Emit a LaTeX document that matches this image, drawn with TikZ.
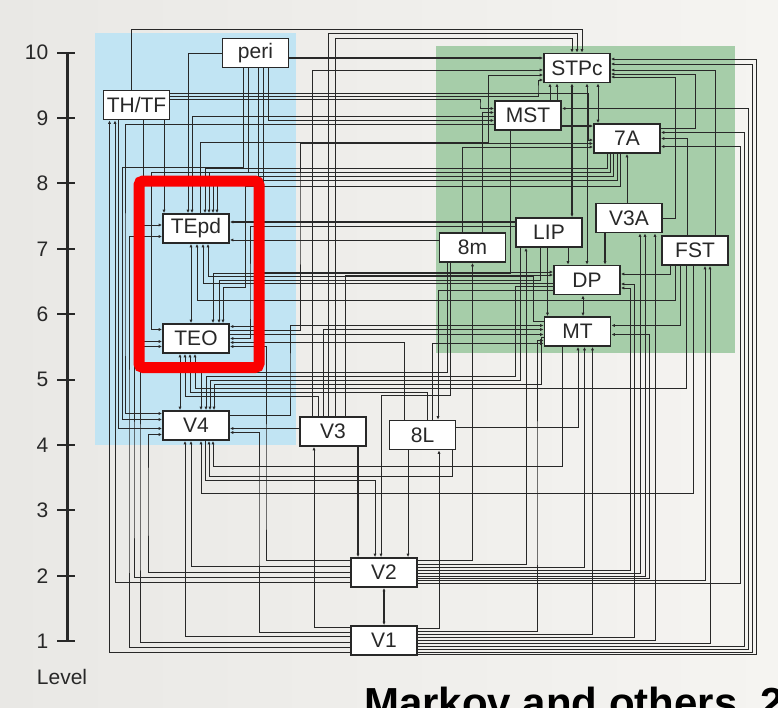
\documentclass[tikz,border=0pt]{standalone}
\usepackage{fontspec}
\setmainfont{Liberation Sans}
\usetikzlibrary{arrows.meta}
\definecolor{bgL}{RGB}{233,232,229}
\definecolor{bgR}{RGB}{245,244,241}
\definecolor{blueA}{RGB}{193,228,243}
\definecolor{greenA}{RGB}{166,205,169}
\definecolor{ink}{RGB}{40,40,40}
\definecolor{redA}{RGB}{250,0,0}
\pgfdeclarelayer{bg}
\pgfdeclarelayer{wires}
\pgfsetlayers{bg,wires,main}
\tikzset{
 >={Latex[length=3.4pt,width=3.2pt]},
 box/.style={draw=ink, line width=1.8pt, fill=white, minimum width=66pt, minimum height=29pt, inner sep=0pt, text=ink, font=\fontsize{21}{21}\selectfont},
 w/.style={draw=ink, line width=0.9pt, ->},
 wb/.style={draw=ink, line width=0.9pt, <->},
 wt/.style={w, line width=1.8pt},
 wtb/.style={wb, line width=1.8pt},
 lvl/.style={anchor=east, text=ink, font=\fontsize{21}{21}\selectfont, inner sep=0pt},
}
\begin{document}
\begin{tikzpicture}[x=1pt,y=-1pt]
\useasboundingbox (0,0) rectangle (778,707);
\begin{scope}
\clip (0,0) rectangle (778,707);
\begin{pgfonlayer}{bg}
\shade[left color=bgL,right color=bgR] (0,0) rectangle (778,707);
\fill[blueA] (95,33) rectangle (296,445);
\fill[greenA] (436,46) rectangle (735,353);
\end{pgfonlayer}

% nodes
\node[box] (peri) at (255.5,53) {peri};
\node[box] (THTF) at (136.5,105) {TH/TF};
\node[box] (STPc) at (577,68) {STPc};
\node[box] (MST) at (528,115.5) {MST};
\node[box] (A7) at (627,138.5) {7A};
\node[box] (TEpd) at (196,228.5) {TEpd};
\node[box] (m8) at (472.5,247.5) {8m};
\node[box] (LIP) at (549,232.5) {LIP};
\node[box] (V3A) at (629,218) {V3A};
\node[box] (FST) at (695,250.5) {FST};
\node[box] (DP) at (587,280) {DP};
\node[box] (MT) at (577.5,331.5) {MT};
\node[box] (TEO) at (196,338.5) {TEO};
\node[box] (V4) at (196,425.5) {V4};
\node[box] (V3) at (333,431.5) {V3};
\node[box] (L8) at (422.5,435) {8L};
\node[box] (V2) at (384,572.5) {V2};
\node[box] (V1) at (384,640.5) {V1};

\begin{pgfonlayer}{wires}
% V1 - V2
\draw[wtb] (V2.south) -- (V1.north);
% V1 east
\draw[w] ([yshift=12]V1.east) -| ([xshift=16.5]L8.south);
\draw[w] ([yshift=9]V1.east) -| (537,500) |- ([yshift=-9]MT.west);
\draw[w] ([yshift=6]V1.east) -| ([xshift=15]MT.south);
\draw[w] ([yshift=3]V1.east) -| (634,500) |- ([yshift=-4]DP.east);
\draw[w] (V1.east) -| ([xshift=26]V3A.south);
\draw[w] ([yshift=-3]V1.east) -| ([xshift=15]FST.south);
\draw[w] ([yshift=-6]V1.east) -| (744,300) |- ([yshift=6]A7.east);
\draw[w] ([yshift=-9]V1.east) -| (748,300) |- ([yshift=7]MST.east);
\draw[w] ([yshift=-11.5]V1.east) -| (752,300) |- ([yshift=4]STPc.east);
\draw[w] ([yshift=-13.5]V1.east) -| (756,300) |- ([yshift=9]STPc.east);
% V1 west
\draw[w] ([yshift=13]V1.west) -| ([xshift=-19]V3.south);
\draw[w] ([yshift=8]V1.west) -| (259,500) |- ([yshift=-7]V4.east);
\draw[w] ([yshift=4]V1.west) -| ([xshift=-11]V4.south);
\draw[w] ([yshift=-2]V1.west) -| (140,500) |- ([yshift=-8]TEO.west);
\draw[w] ([yshift=-7]V1.west) -| (129,500) |- ([yshift=-8]TEpd.west);
\draw[w] ([yshift=-12]V1.west) -| ([xshift=-27]THTF.south);
% V2 west
\draw[w] ([yshift=12]V2.west) -| (266,500) |- ([yshift=-8]TEO.east);
\draw[w] ([yshift=6]V2.west) -| ([xshift=-5]V4.south);
\draw[w] (V2.west) -| (148,500) |- ([yshift=-9]V4.west);
\draw[w] ([yshift=-5]V2.west) -| (134,500) |- ([yshift=-3]TEO.west);
\draw[w] ([yshift=-10]V2.west) -| ([xshift=-21.5]THTF.south);
% V2 east
\draw[w] ([yshift=12]V2.east) -| (m8.south);
\draw[w] ([yshift=8]V2.east) -| ([xshift=-23]LIP.south);
\draw[w] ([yshift=5]V2.east) -| ([xshift=7]MT.south);
\draw[w] ([yshift=2]V2.east) -| (630,500) |- ([yshift=-8]DP.east);
\draw[w] ([yshift=-1]V2.east) -| ([xshift=11]V3A.south);
\draw[w] ([yshift=-4]V2.east) -| ([xshift=16]V3A.south);
\draw[w] ([yshift=-6]V2.east) -| (649,500) |- ([yshift=-3]MT.east);
\draw[w] ([yshift=-8]V2.east) -| ([xshift=10]FST.south);
\draw[w] ([yshift=-11]V2.east) -| (740,300) |- ([yshift=-8]A7.east);
% V2 north, V3, 8L
\draw[wt] ([xshift=25]V3.south) -- ([xshift=-26]V2.north);
\draw[w] ([xshift=-14.5]L8.south) -- ([xshift=24]V2.north);
\draw[w] ([xshift=9]V4.south) |- (375,480) -- ([xshift=-9]V2.north);
\draw[w] ([xshift=-22]m8.south) |- (381,395) -- ([xshift=-3]V2.north);
\draw[w] ([yshift=3]V3.west) -- ([yshift=-3]V4.east);
\draw[w] ([xshift=-10]V3.north) |- ([yshift=2]MT.west);
\draw[w] ([xshift=-15]V3.north) |- (185,396) -- ([xshift=-11]TEO.south);
\draw[w] ([xshift=-5]V3.north) |- (577,33) -- (STPc.north);
\draw[w] ([xshift=2]V3.north) |- (572,38) -- ([xshift=-5]STPc.north);
\draw[w] ([xshift=-21]V3.north) |- ([yshift=-2]STPc.west);
\draw[w] ([xshift=12]V3.north) |- ([yshift=5]DP.west);
\draw[w] ([yshift=-10]DP.west) -| ([xshift=15.5]L8.north);
\draw[w] ([xshift=5]L8.north) |- (190,392) -- ([xshift=-6]TEO.south);
\draw[w] ([xshift=-18.5]L8.north) |- ([yshift=-4]TEO.east);
\draw[w] ([xshift=10]L8.north) |- ([yshift=-12]MT.west);
\draw[w] ([yshift=8]L8.east) -| ([xshift=0.5]MT.south);
\draw[w] ([xshift=30]L8.south) |- (209,476) -- ([xshift=13]V4.south);
% peri
\draw[wt] ([yshift=-5]peri.east) -- ([yshift=10]STPc.west);
\draw[w] (peri.west) -| ([xshift=-8]TEpd.north);
\draw[w] ([xshift=-12.5]peri.south) |- (122,167) |- ([yshift=6]V4.west);
\draw[w] ([xshift=-7.5]peri.south) |- (151,172) |- ([yshift=9]TEO.west);
\draw[w] ([xshift=2.5]peri.south) |- ([yshift=12]TEO.east);
\draw[w] ([xshift=7.5]peri.south) |- ([yshift=8]DP.west);
\draw[w] ([xshift=12.5]peri.south) |- ([yshift=-5]MST.west);
% TH/TF
\draw[w] ([xshift=-5]THTF.north) |- (582,29) -- ([xshift=5]STPc.north);
\draw[w] ([xshift=27.5]THTF.south) -- ([xshift=-32]TEpd.north);
\draw[w] ([xshift=6.5]THTF.south) |- ([yshift=3.5]TEpd.west);
\draw[w] ([xshift=-18]THTF.south) |- ([yshift=-3]V4.west);
\draw[w] ([yshift=12]THTF.east) -| (588,120) |- ([yshift=-1.5]A7.west);
\draw[w] ([yshift=9]THTF.east) -| (538,90) |- ([yshift=-12]STPc.west);
\draw[w] ([yshift=6]THTF.east) -| (480,105) |- ([yshift=7]MST.west);
% MST
\draw[w] ([xshift=22]MST.north) -- ([xshift=-27]STPc.south);
\draw[w] ([xshift=29]MST.north) -- ([xshift=-20]STPc.south);
\draw[wt] ([yshift=-10.5]MST.east) -- ([yshift=12.5]A7.west);
\draw[w] ([yshift=-1]MST.west) -| ([xshift=-4]TEpd.north);
\draw[w] ([yshift=-9]MST.west) -| (125,300) |- ([yshift=12]V4.west);
\draw[w] ([xshift=-18]MST.south) |- (213,273) -- ([xshift=17]TEO.north);
% 8m
\draw[w] ([yshift=7.5]m8.west) -- ([yshift=-11.5]TEpd.east);
\draw[w] ([xshift=-10]m8.north) |- ([yshift=-8.5]A7.west);
\draw[w] ([xshift=10]m8.north) |- ([yshift=3]MST.west);
\draw[w] ([xshift=-25]m8.south) |- (201,372) -- ([xshift=5]V4.north);
% LIP
\draw[wt] ([yshift=10.5]LIP.west) -- ([yshift=6.5]TEpd.east);
\draw[w] ([yshift=6.5]LIP.west) -| (250,300) |- (TEO.east);
\draw[wtb] ([xshift=23]LIP.north) -- ([xshift=-5]STPc.south);
\draw[w] ([xshift=-1.5]LIP.south) -- ([xshift=-30]MT.north);
\draw[w] ([xshift=19]LIP.south) -- ([xshift=-19]DP.north);
\draw[w] ([xshift=-29]LIP.south) |- (210,380) -- ([xshift=14]V4.north);
\draw[w] ([xshift=-9]LIP.south) |- (219,280) -- ([xshift=23]TEO.north);
% STPc / 7A
\draw[wb] ([xshift=10]STPc.south) -- (DP.north);
\draw[wb] ([xshift=21]STPc.south) -- ([xshift=-29]A7.north);
\draw[w] ([yshift=10]A7.east) -| (695,100) |- ([yshift=-6]STPc.east);
\draw[w] (V3A.east) -| (675,100) |- ([yshift=-9]STPc.east);
\draw[w] ([xshift=20]FST.north) |- ([yshift=-2]STPc.east);
\draw[w] ([xshift=4]TEpd.north) |- (488,142) |- ([yshift=-7]STPc.west);
\draw[w] ([xshift=-2]V3A.north) -- (A7.south);
\draw[w] ([xshift=-20]A7.south) |- (205,168) -- ([xshift=9]TEpd.north);
\draw[w] ([xshift=-17]A7.south) |- (209,172) -- ([xshift=13]TEpd.north);
\draw[w] ([xshift=-14]A7.south) |- (213,176) -- ([xshift=17]TEpd.north);
\draw[w] ([xshift=-10]A7.south) |- (217,180) -- ([xshift=21]TEpd.north);
\draw[w] ([xshift=-7]A7.south) |- (245,186) |- (223,287) -- ([xshift=27]TEO.north);
\draw[w] ([xshift=-8]FST.north) |- (A7.east);
\draw[w] ([yshift=8]TEO.east) -| (300,200) |- ([yshift=-5]A7.west);
% DP / MT / FST
\draw[wb] ([xshift=-4]DP.south) -- ([xshift=5.5]MT.north);
\draw[wt] ([xshift=-24]V3A.south) -- ([xshift=18]DP.north);
\draw[w] ([yshift=-3]DP.west) -| ([xshift=7]TEpd.south);
\draw[w] ([yshift=10]MT.west) -| (533,276) -| ([xshift=12]TEpd.south);
\draw[w] ([xshift=-20]FST.south) |- (197,300) -- ([xshift=1]TEpd.south);
\draw[w] ([yshift=-6]DP.west) -| (515,376) -| ([xshift=10]V4.north);
\draw[w] ([yshift=-6]MT.west) -| (541,384) -| ([xshift=18]V4.north);
\draw[w] ([xshift=-25]FST.south) |- ([yshift=6]DP.east);
\draw[w] ([xshift=-15]FST.south) |- ([yshift=6]MT.east);
\draw[w] ([xshift=-9]FST.south) |- (195,388) -- ([xshift=-1]TEO.south);
\draw[w] ([xshift=-2]FST.south) |- (201,493) -- ([xshift=5]V4.south);
\draw[w] ([xshift=-15]MT.south) |- (213,466) -- ([xshift=17]V4.south);
\draw[w] ([yshift=4]TEO.east) -- ([yshift=-3]MT.west);
\draw[w] ([yshift=10]V4.east) -| (290,380) |- ([yshift=6]MT.west);
\draw[wb] ([xshift=-16]TEO.south) -- ([xshift=-16]V4.north);
\draw[wb] ([xshift=-5]TEpd.south) -- ([xshift=-5]TEO.north);
\end{pgfonlayer}

% red highlight
\draw[redA, line width=11pt, rounded corners=4pt] (139,181) rectangle (259,367.5);

% level axis
\draw[ink, line width=2.4pt] (67.5,52.7) -- (67.5,641);
\foreach \l/\yy in {10/52.7, 9/118.1, 8/183.4, 7/248.8, 6/314.2, 5/379.6, 4/444.9, 3/510.3, 2/575.7, 1/641.0}{
  \draw[ink, line width=2pt] (57,\yy) -- (75,\yy);
  \node[lvl] (lv\l) at (48.5,\yy) {\l};
}
\node[text=ink, font=\fontsize{21}{21}\selectfont, inner sep=0pt] (levellab) at (62,677) {Level};

% caption
\node[anchor=base west, inner sep=0pt, font=\bfseries\fontsize{42}{42}\selectfont] (caption) at (364,717) {Markov and others, 2};
\end{scope}
\end{tikzpicture}
\end{document}
